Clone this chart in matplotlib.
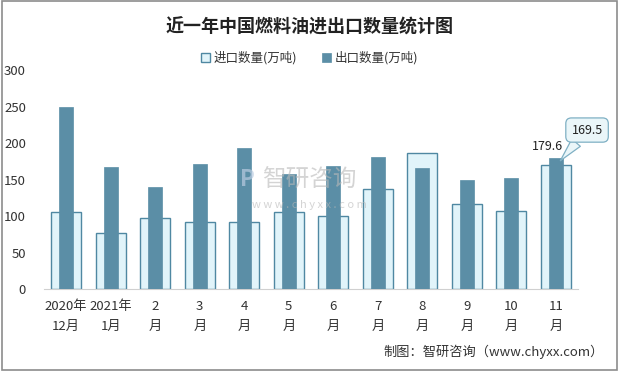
import matplotlib
matplotlib.use("Agg")
import matplotlib.pyplot as plt
import numpy as np
from matplotlib.patches import Rectangle

plt.rcParams['font.family'] = ['Noto Sans CJK SC', 'DejaVu Sans']

# данные
months = ["2020年\n12月", "2021年\n1月", "2\n月", "3\n月", "4\n月", "5\n月",
          "6\n月", "7\n月", "8\n月", "9\n月", "10\n月", "11\n月"]
import_qty = [105.4, 76.6, 97.2, 91.7, 91.7, 105.4, 99.9, 137.3, 186.5, 116.3, 106.7, 169.5]
export_qty = [249.5, 167.4, 140.0, 171.5, 193.4, 157.8, 168.7, 181.0, 166.0, 149.6, 152.3, 179.6]
yticks = [0, 50, 100, 150, 200, 250, 300]

dark = "#5b8ea6"
light = "#e1f4fa"
edge = "#4f88a2"

fig = plt.figure(figsize=(6.19, 3.71), dpi=100)
fig.patches.append(Rectangle((0.004, 0.004), 0.992, 0.992, transform=fig.transFigure,
                             fill=False, edgecolor="#8c8c8c", linewidth=1.2))

ax = fig.add_axes([0.071, 0.22, 0.863, 0.591])
x = np.arange(len(months))
ax.bar(x, import_qty, width=0.67, color=light, edgecolor=edge, linewidth=1.0,
       label="进口数量(万吨)", zorder=2)
ax.bar(x, export_qty, width=0.32, color=dark, edgecolor=dark, linewidth=0.5,
       label="出口数量(万吨)", zorder=3)

ax.set_xlim(-0.5, len(months) - 0.5)
ax.set_ylim(0, 300)
ax.set_yticks(yticks)
ax.set_xticks(x)
ax.set_xticklabels(months, fontsize=9, color="#333333", linespacing=1.6)
ax.tick_params(axis="both", length=0, labelsize=9.5, colors="#333333")
ax.tick_params(axis="y", pad=13)
ax.tick_params(axis="x", pad=8)
for s in ["top", "right", "left"]:
    ax.spines[s].set_visible(False)
ax.spines["bottom"].set_color("#d0d0d0")

# подписи последнего месяца
last = len(months) - 1
ax.text(last - 0.2, export_qty[last] + 7, f"{export_qty[last]}", ha="center",
        va="bottom", fontsize=9, color="#222222", zorder=5)
ax.annotate(f"{import_qty[last]}", xy=(last + 0.1, 176),
            xytext=(last + 0.7, 218), ha="center", va="center", fontsize=9,
            color="#222222", zorder=5, annotation_clip=False,
            bbox=dict(boxstyle="round,pad=0.45", fc="#eaf6f9", ec="#7fb0c4", lw=0.9),
            arrowprops=dict(arrowstyle="wedge,tail_width=0.9", fc="#eaf6f9",
                            ec="#7fb0c4", lw=0.9, shrinkA=0, shrinkB=0))

# водяной знак
fig.text(0.50, 0.515, "智研咨询", ha="center", va="center", fontsize=17,
         color="#b8b8b8", alpha=0.6, zorder=10)
fig.text(0.50, 0.448, "w w w . c h y x x . c o m", ha="center", va="center",
         fontsize=8, color="#b8b8b8", alpha=0.6, zorder=10)
fig.text(0.40, 0.515, "P", ha="center", va="center", fontsize=16, fontweight="bold",
         color="#b9cbe0", alpha=0.7, zorder=10)

fig.text(0.5, 0.928, "近一年中国燃料油进出口数量统计图", ha="center", va="center",
         fontsize=13, fontweight="bold", color="#222222")
fig.legend(loc="center", bbox_to_anchor=(0.5, 0.843), ncol=2, frameon=False,
           fontsize=9, handlelength=0.7, handleheight=0.7, columnspacing=2.0,
           handletextpad=0.3, labelcolor="#333333")
fig.text(0.975, 0.052, "制图：智研咨询（www.chyxx.com）", ha="right", va="center",
         fontsize=9.5, color="#333333")

fig.savefig("out.png", dpi=100)
